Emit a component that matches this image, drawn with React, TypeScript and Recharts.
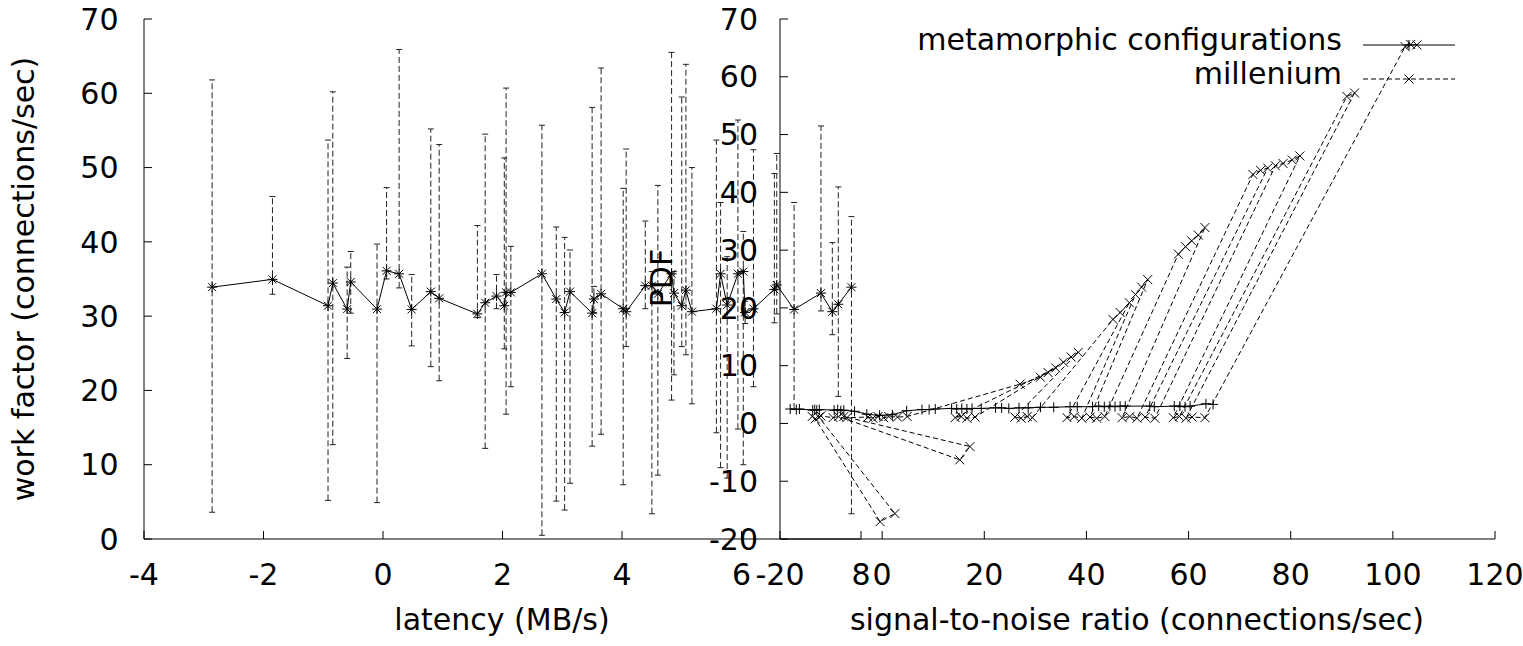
import React from 'react';
import { LineChart, Line, XAxis, YAxis, ErrorBar, Legend, Label } from 'recharts';

// ---- left panel: work factor vs latency (with error bars) ----
const latency = [-2.86, -1.85, -0.92, -0.84, -0.6, -0.54, -0.1, 0.06, 0.27, 0.48, 0.8, 0.94, 1.58, 1.71, 1.9, 2.03, 2.06, 2.14, 2.66, 2.9, 3.04, 3.13, 3.5, 3.53, 3.65, 4.02, 4.07, 4.39, 4.5, 4.6, 4.83, 4.87, 5.0, 5.07, 5.17, 5.58, 5.65, 5.76, 5.94, 6.03, 6.06, 6.2, 6.55, 6.59, 6.88, 7.33, 7.52, 7.62, 7.84];
const workFactor = [33.9, 34.95, 31.4, 34.45, 30.95, 34.6, 30.95, 36.1, 35.7, 30.9, 33.3, 32.4, 30.3, 31.8, 32.7, 31.4, 33.2, 33.2, 35.7, 32.3, 30.5, 33.3, 30.4, 32.3, 33.0, 31.0, 30.6, 34.1, 34.1, 33.0, 35.7, 33.1, 31.4, 33.5, 30.6, 31.0, 35.7, 31.5, 35.7, 36.0, 30.5, 31.0, 33.6, 34.2, 30.9, 33.1, 30.6, 31.6, 33.9];
const workHigh = [61.8, 46.1, 53.7, 60.2, 36.6, 38.7, 39.7, 47.3, 65.9, 35.6, 55.2, 53.1, 42.2, 54.5, 35.6, 51.3, 60.7, 39.4, 55.7, 42.0, 40.6, 38.9, 58.1, 34.0, 63.4, 47.2, 52.5, 42.8, 36.0, 47.6, 65.5, 36.0, 59.5, 63.9, 50.0, 53.7, 45.3, 38.0, 56.4, 41.4, 32.0, 52.4, 49.2, 51.9, 45.3, 55.6, 39.9, 47.4, 43.4];
const workLow = [3.6, 32.95, 5.2, 12.7, 24.3, 30.4, 4.9, 35.0, 33.8, 26.0, 23.2, 21.3, 29.8, 12.2, 31.0, 25.6, 16.8, 20.5, 0.5, 5.1, 3.9, 7.5, 12.5, 30.5, 14.1, 7.3, 25.9, 31.0, 3.4, 8.6, 18.7, 22.1, 25.9, 24.8, 18.2, 14.3, 9.6, 8.2, 14.8, 10.0, 29.0, 20.5, 29.1, 30.3, 17.5, 30.7, 27.5, 19.2, 3.4];
const latencyTicks = [-4, -2, 0, 2, 4, 6, 8];
const workTicks = [0, 10, 20, 30, 40, 50, 60, 70];

// ---- right panel: PDF vs signal-to-noise ratio ----
const metaSnr = [-18.0, -16.8, -16.2, -13.6, -13.2, -12.8, -12.3, -9.4, -8.7, -8.1, -7.5, -5.4, -3.0, -0.5, 2.0, 4.8, 7.8, 9.2, 10.4, 13.6, 14.6, 15.6, 16.6, 17.6, 19.4, 22.2, 23.4, 24.8, 26.8, 28.6, 31.0, 33.6, 36.8, 38.2, 41.2, 42.4, 43.5, 44.6, 45.6, 46.6, 47.6, 52.4, 53.3, 57.2, 58.3, 59.3, 60.3, 63.4, 64.8];
const metaPdf = [2.5, 2.4, 2.5, 2.3, 2.4, 2.3, 2.4, 2.3, 2.4, 2.2, 2.3, 2.1, 1.6, 1.4, 1.5, 2.2, 2.4, 2.4, 2.5, 2.6, 2.5, 2.6, 2.5, 2.6, 2.6, 2.7, 2.7, 2.6, 2.7, 2.7, 2.8, 2.8, 2.9, 2.9, 2.9, 3.0, 2.9, 3.0, 2.9, 3.0, 3.0, 3.0, 2.9, 3.0, 3.0, 2.9, 3.0, 3.4, 3.3];
const milSnr = [-13.7, -13.1, -0.4, 2.5, -12.4, -12.0, -9.6, -8.5, 15.2, 17.2, -7.5, -6.9, -2.8, -1.8, -0.8, 0.3, 1.3, 3.0, 4.9, 27.0, 31.0, 32.5, 34.0, 14.3, 15.5, 16.6, 18.2, 35.5, 37.0, 38.4, 26.0, 27.2, 28.4, 29.4, 45.2, 46.6, 48.4, 36.2, 37.6, 39.1, 49.6, 50.8, 52.0, 40.7, 42.0, 43.6, 58.0, 59.4, 60.6, 61.9, 63.2, 47.0, 48.5, 49.9, 72.6, 74.1, 75.5, 51.5, 53.4, 77.0, 78.5, 80.3, 81.8, 57.0, 58.2, 91.0, 92.5, 59.5, 60.7, 63.2, 102.4, 103.5, 104.7];
const milPdf = [1.2, 0.8, -17.0, -15.6, 1.1, 1.3, 1.0, 1.2, -6.3, -4.0, 1.2, 1.0, 1.1, 0.9, 1.2, 1.0, 1.2, 1.1, 1.2, 6.8, 8.0, 8.8, 9.6, 1.0, 1.2, 0.9, 1.1, 10.6, 11.5, 12.3, 1.1, 0.9, 1.2, 1.0, 18.0, 19.2, 20.9, 1.0, 1.2, 0.9, 22.3, 23.6, 24.9, 1.1, 0.9, 1.2, 29.3, 30.6, 31.6, 32.6, 33.9, 1.0, 1.2, 0.9, 43.1, 43.8, 44.2, 1.1, 0.9, 44.6, 45.0, 45.6, 46.3, 1.0, 1.2, 56.6, 57.2, 0.9, 1.1, 1.0, 65.2, 65.6, 65.5];
const snrTicks = [-20, 0, 20, 40, 60, 80, 100, 120];
const pdfTicks = [-20, -10, 0, 10, 20, 30, 40, 50, 60, 70];
const seriesNames = ['metamorphic configurations', 'millenium'];

const W = 1523;
const H = 646;
const FONT = 'DejaVu Sans';
const tickStyle = { fill: '#000', fontSize: 30, fontFamily: FONT };

const workData = latency.map((x, i) => ({
  x,
  y: workFactor[i],
  err: [workFactor[i] - workLow[i], workHigh[i] - workFactor[i]],
}));
const metaData = metaSnr.map((x, i) => ({ x, y: metaPdf[i] }));
const milData = milSnr.map((x, i) => ({ x, y: milPdf[i] }));

// gnuplot style point markers
const StarMark = ({ cx, cy }: any) => (
  <g stroke="#000" strokeWidth={1}>
    <line x1={cx - 5} y1={cy} x2={cx + 5} y2={cy} />
    <line x1={cx} y1={cy - 5} x2={cx} y2={cy + 5} />
    <line x1={cx - 4} y1={cy - 4} x2={cx + 4} y2={cy + 4} />
    <line x1={cx - 4} y1={cy + 4} x2={cx + 4} y2={cy - 4} />
  </g>
);
const PlusMark = ({ cx, cy }: any) => (
  <g stroke="#000" strokeWidth={1}>
    <line x1={cx - 5} y1={cy} x2={cx + 5} y2={cy} />
    <line x1={cx} y1={cy - 5} x2={cx} y2={cy + 5} />
  </g>
);
const CrossMark = ({ cx, cy }: any) => (
  <g stroke="#000" strokeWidth={1}>
    <line x1={cx - 4.5} y1={cy - 4.5} x2={cx + 4.5} y2={cy + 4.5} />
    <line x1={cx - 4.5} y1={cy + 4.5} x2={cx + 4.5} y2={cy - 4.5} />
  </g>
);

const renderLegend = (props: any) => {
  const payload = props.payload && props.payload.length ? props.payload : seriesNames.map(v => ({ value: v }));
  return (
    <svg width={W} height={100} style={{ display: 'block' }}>
      {payload.map((entry: any, i: number) => {
        const y = i === 0 ? 45 : 79;
        return (
          <g key={`leg-${i}`}>
            <text x={1342} y={y + 5} textAnchor="end" fontSize={30} fontFamily={FONT} fill="#000">
              {entry.value}
            </text>
            <line x1={1363} y1={y} x2={1455} y2={y} stroke="#000" strokeWidth={1} strokeDasharray={i === 0 ? undefined : '5 3'} />
            {i === 0 ? <PlusMark cx={1409} cy={y} /> : <CrossMark cx={1409} cy={y} />}
          </g>
        );
      })}
    </svg>
  );
};

export default function App() {
  return (
    <div style={{ position: 'absolute', left: 0, top: 0, width: W, height: H, background: '#fff', fontFamily: FONT }}>
      {/* left panel */}
      <div style={{ position: 'absolute', left: 0, top: 0 }}>
        <LineChart width={W} height={H} data={workData} margin={{ top: 19, right: 662, bottom: 12, left: 44 }}>
          <XAxis xAxisId="b" type="number" dataKey="x" domain={[-4, 8]} ticks={latencyTicks} interval={0}
            height={95} tickSize={-8} tickMargin={33} stroke="#000" tick={tickStyle} allowDataOverflow>
            <Label value="latency (MB/s)" content={() => (
              <text x={502} y={630} textAnchor="middle" fontSize={30} fontFamily={FONT} fill="#000">latency (MB/s)</text>
            )} />
          </XAxis>
          <XAxis xAxisId="t" orientation="top" type="number" dataKey="x" domain={[-4, 8]} ticks={latencyTicks}
            height={0} tickSize={-8} stroke="#000" tick={false} allowDataOverflow />
          <YAxis yAxisId="l" type="number" domain={[0, 70]} ticks={workTicks} interval={0} width={100}
            tickSize={-8} tickMargin={33.5} stroke="#000" tick={tickStyle} allowDataOverflow>
            <Label value="work factor (connections/sec)" content={() => (
              <text x={23} y={279} transform="rotate(-90 23 279)" textAnchor="middle" dy="0.35em"
                fontSize={30} fontFamily={FONT} fill="#000">work factor (connections/sec)</text>
            )} />
          </YAxis>
          <YAxis yAxisId="r" orientation="right" type="number" domain={[0, 70]} ticks={workTicks} width={0}
            tickSize={-8} stroke="#000" tick={false} allowDataOverflow />
          <Line xAxisId="b" yAxisId="l" dataKey="y" stroke="#000" strokeWidth={1} isAnimationActive={false}
            activeDot={false}
            dot={(p: any) => <StarMark key={`st-${p.index}`} cx={p.cx} cy={p.cy} />}>
            <ErrorBar dataKey="err" direction="y" width={3} stroke="#222" strokeWidth={1}
              strokeDasharray="6 3" isAnimationActive={false} />
          </Line>
        </LineChart>
      </div>

      {/* right panel */}
      <div style={{ position: 'absolute', left: 0, top: 0 }}>
        <LineChart width={W} height={H} margin={{ top: 19, right: 28, bottom: 12, left: 630 }}>
          <XAxis xAxisId="b" type="number" dataKey="x" domain={[-20, 120]} ticks={snrTicks} interval={0}
            height={95} tickSize={-8} tickMargin={33} stroke="#000" tick={tickStyle} allowDataOverflow>
            <Label value="signal-to-noise ratio (connections/sec)" content={() => (
              <text x={1137} y={630} textAnchor="middle" fontSize={30} fontFamily={FONT} fill="#000">
                signal-to-noise ratio (connections/sec)
              </text>
            )} />
          </XAxis>
          <XAxis xAxisId="t" orientation="top" type="number" dataKey="x" domain={[-20, 120]} ticks={snrTicks}
            height={0} tickSize={-8} stroke="#000" tick={false} allowDataOverflow />
          <YAxis yAxisId="l" type="number" domain={[-20, 70]} ticks={pdfTicks} interval={0} width={150}
            tickSize={-8} tickMargin={30} stroke="#000" tick={tickStyle} allowDataOverflow>
            <Label value="PDF" content={() => (
              <text x={661} y={278} transform="rotate(-90 661 278)" textAnchor="middle" dy="0.35em"
                fontSize={30} fontFamily={FONT} fill="#000">PDF</text>
            )} />
          </YAxis>
          <YAxis yAxisId="r" orientation="right" type="number" domain={[-20, 70]} ticks={pdfTicks} width={0}
            tickSize={-8} stroke="#000" tick={false} allowDataOverflow />
          <Legend layout="horizontal" verticalAlign="middle" align="center" content={renderLegend}
            wrapperStyle={{ left: 0, top: 0, width: W, height: 100 }} />
          <Line xAxisId="b" yAxisId="l" data={metaData} dataKey="y" name={seriesNames[0]} stroke="#000"
            strokeWidth={1} isAnimationActive={false} activeDot={false}
            dot={(p: any) => <PlusMark key={`pl-${p.index}`} cx={p.cx} cy={p.cy} />} />
          <Line xAxisId="b" yAxisId="l" data={milData} dataKey="y" name={seriesNames[1]} stroke="#000"
            strokeWidth={1} strokeDasharray="5 3" isAnimationActive={false} activeDot={false}
            dot={(p: any) => <CrossMark key={`cr-${p.index}`} cx={p.cx} cy={p.cy} />} />
        </LineChart>
      </div>
    </div>
  );
}
